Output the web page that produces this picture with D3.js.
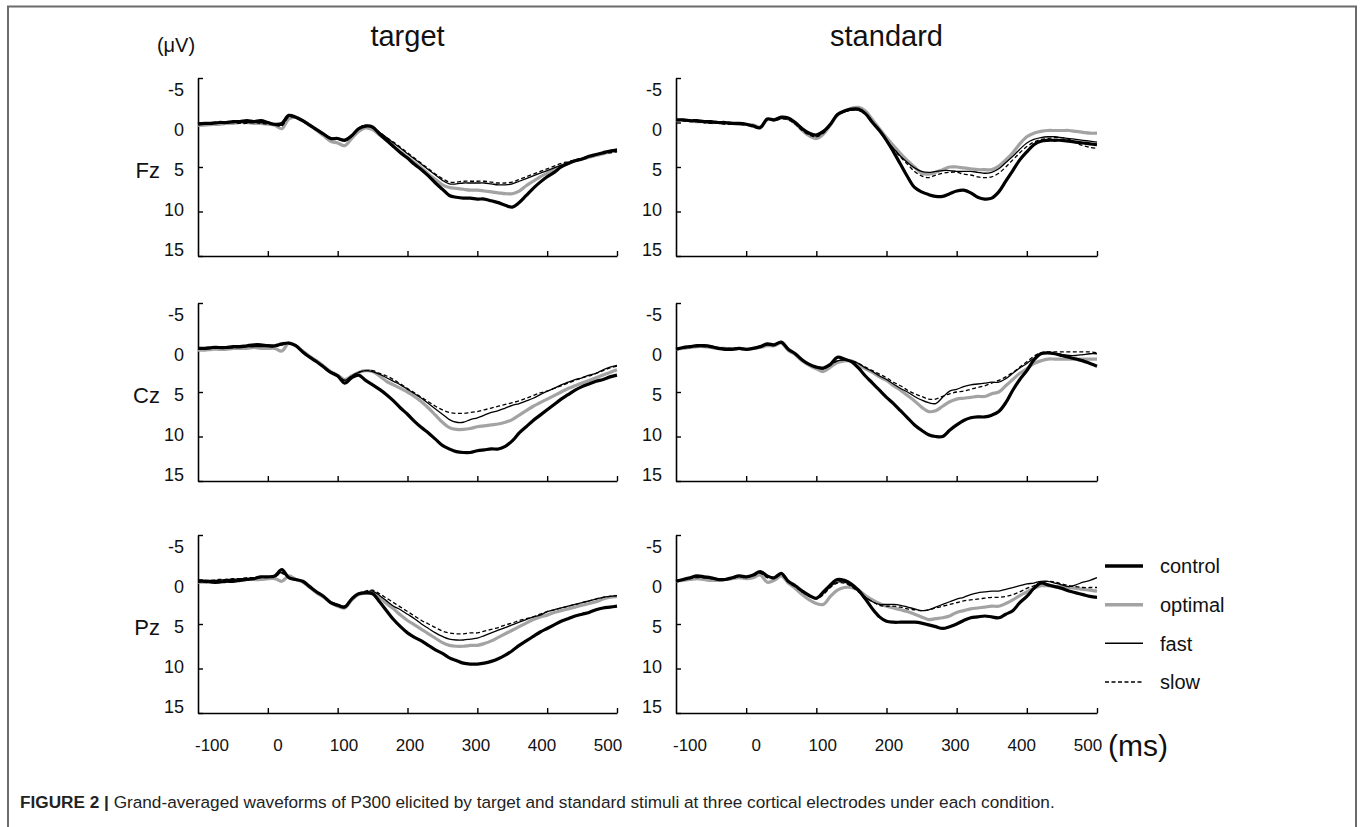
<!DOCTYPE html>
<html><head><meta charset="utf-8">
<script src="https://cdn.jsdelivr.net/npm/d3@7"></script>
<style>
body{margin:0;background:#fff}
svg{display:block}
text{font-family:"Liberation Sans",Arial,Helvetica,sans-serif;fill:#111}
</style>
</head><body>
<svg id="chart" width="1360" height="827"></svg>
<script>
// ---------- data ----------
const timesMs = [-100,-90,-80,-70,-60,-50,-40,-30,-20,-10,
  0,10,20,30,40,50,60,70,80,90,
  100,110,120,130,140,150,160,170,180,190,
  200,210,220,230,240,250,260,270,280,290,
  300,310,320,330,340,350,360,370,380,390,
  400,410,420,430,440,450,460,470,480,490,500];
const stimuli = ["target","standard"];
const electrodes = ["Fz","Cz","Pz"];
const conditions = ["control","optimal","fast","slow"];
const yTicks = [-5,0,5,10,15];
const xTicks = [-100,0,100,200,300,400,500];

// target, Fz
const targetFzControl = [0.2,0.1,0.1,0.0,0.0,-0.1,-0.1,-0.2,-0.1,-0.2, 0.0,0.2,0.1,-0.8,-0.6,-0.2,0.3,0.8,1.3,1.8, 1.8,2.0,1.5,0.7,0.4,0.5,1.3,2.0,2.7,3.4, 4.0,4.7,5.3,6.0,6.8,7.5,8.2,8.4,8.5,8.5, 8.6,8.6,8.8,9.0,9.3,9.5,9.0,8.2,7.4,6.7, 6.1,5.6,5.0,4.6,4.3,4.1,3.8,3.6,3.4,3.2, 3.1];
const targetFzOptimal = [0.3,0.3,0.2,0.2,0.1,0.1,0.0,0.0,0.1,0.1, 0.2,0.3,0.7,-0.4,-0.6,-0.2,0.3,0.9,1.5,2.1, 2.3,2.6,1.8,1.0,0.6,0.8,1.4,2.0,2.7,3.3, 3.9,4.5,5.1,5.8,6.4,7.0,7.3,7.4,7.5,7.6, 7.6,7.7,7.8,7.9,8.0,8.0,7.7,7.1,6.6,6.1, 5.7,5.3,4.9,4.6,4.3,4.1,3.9,3.7,3.5,3.3, 3.2];
const targetFzFast = [0.1,0.1,0.0,0.0,-0.1,-0.1,-0.1,0.0,0.0,0.0, 0.1,0.2,0.3,-0.7,-0.6,-0.2,0.3,0.8,1.3,1.7, 1.8,1.9,1.4,0.6,0.3,0.5,1.1,1.7,2.3,2.9, 3.5,4.1,4.7,5.3,5.9,6.5,6.9,6.9,6.8,6.8, 6.8,6.8,6.9,7.0,7.0,6.9,6.6,6.3,6.0,5.7, 5.4,5.1,4.8,4.5,4.3,4.1,3.8,3.6,3.4,3.2, 3.0];
const targetFzSlow = [0.2,0.2,0.1,0.1,0.0,0.0,0.1,0.1,0.0,0.1, 0.2,0.3,0.4,-0.6,-0.5,-0.1,0.4,0.9,1.4,1.8, 1.9,2.0,1.5,0.7,0.4,0.6,1.1,1.7,2.2,2.8, 3.4,4.0,4.6,5.2,5.8,6.3,6.7,6.7,6.6,6.6, 6.6,6.6,6.7,6.8,6.8,6.7,6.4,6.1,5.8,5.5, 5.2,4.9,4.6,4.4,4.2,4.0,3.8,3.6,3.5,3.4, 3.3];
// standard, Fz
const standardFzControl = [-0.3,-0.3,-0.2,-0.2,-0.1,-0.1,0.0,0.0,0.1,0.1, 0.2,0.4,0.6,-0.4,-0.3,-0.6,-0.5,0.0,0.7,1.2, 1.4,1.0,0.2,-0.9,-1.3,-1.5,-1.5,-1.0,0.0,0.9, 2.0,3.3,4.7,6.1,7.3,7.8,8.1,8.3,8.3,8.0, 7.7,7.6,7.9,8.4,8.6,8.5,7.8,6.6,5.4,4.2, 3.3,2.5,2.1,2.0,2.0,2.0,2.1,2.2,2.3,2.4, 2.5];
const standardFzOptimal = [-0.2,-0.3,-0.2,-0.1,-0.1,0.0,0.0,0.1,0.1,0.2, 0.2,0.3,0.5,-0.3,-0.3,-0.5,-0.4,0.1,0.9,1.5, 1.8,1.3,0.3,-0.8,-1.3,-1.6,-1.7,-1.3,-0.3,0.7, 1.7,2.6,3.5,4.3,5.0,5.7,5.8,5.6,5.3,5.0, 5.0,5.1,5.2,5.3,5.3,5.3,4.9,4.2,3.4,2.4, 1.6,1.2,1.0,0.9,0.9,0.9,0.9,1.0,1.1,1.2, 1.2];
const standardFzFast = [-0.3,-0.2,-0.2,-0.1,0.0,0.0,0.1,0.1,0.1,0.2, 0.2,0.3,0.5,-0.4,-0.3,-0.5,-0.4,0.1,0.8,1.3, 1.5,1.1,0.3,-0.8,-1.2,-1.4,-1.4,-1.0,0.0,1.0, 2.0,2.9,3.8,4.5,5.1,5.5,5.6,5.5,5.4,5.4, 5.5,5.5,5.5,5.6,5.7,5.6,5.2,4.5,3.8,3.0, 2.3,1.9,1.7,1.6,1.6,1.7,1.8,1.9,2.0,2.1, 2.2];
const standardFzSlow = [-0.2,-0.2,-0.1,-0.1,0.0,0.1,0.1,0.2,0.2,0.2, 0.3,0.4,0.5,-0.3,-0.2,-0.4,-0.3,0.2,0.9,1.4, 1.6,1.2,0.3,-0.8,-1.2,-1.4,-1.4,-1.0,0.0,1.0, 2.0,3.0,3.9,4.7,5.5,6.0,6.2,5.9,5.7,5.6, 5.6,5.8,5.9,6.1,6.2,6.1,5.7,5.0,4.2,3.4, 2.7,2.2,1.9,1.8,1.7,1.7,1.9,2.3,2.6,2.8, 2.9];
// target, Cz
const targetCzControl = [0.1,0.1,0.0,0.0,0.0,-0.1,-0.1,-0.2,-0.3,-0.3, -0.2,-0.2,-0.4,-0.5,-0.2,0.5,1.1,1.6,2.2,2.8, 3.2,4.0,3.4,3.1,3.7,4.2,4.7,5.3,6.0,6.8, 7.5,8.3,9.0,9.6,10.3,11.0,11.4,11.7,11.8,11.8, 11.6,11.5,11.4,11.4,11.1,10.5,9.6,8.9,8.2,7.6, 7.0,6.4,5.8,5.3,4.8,4.4,4.1,3.8,3.6,3.3, 3.1];
const targetCzOptimal = [0.3,0.3,0.2,0.2,0.2,0.1,0.1,0.1,0.0,0.1, 0.1,0.1,0.4,-0.5,-0.2,0.4,1.0,1.5,2.1,2.7, 3.1,3.6,3.2,2.8,2.6,2.7,3.2,3.8,4.2,4.6, 5.0,5.5,6.1,6.8,7.6,8.4,9.0,9.2,9.2,9.1, 8.9,8.8,8.7,8.6,8.4,8.1,7.6,7.1,6.6,6.2, 5.8,5.4,5.0,4.6,4.3,4.0,3.7,3.4,3.1,2.8, 2.5];
const targetCzFast = [0.2,0.2,0.1,0.1,0.1,0.0,0.0,-0.1,-0.1,-0.1, -0.1,-0.1,-0.3,-0.5,-0.2,0.5,1.0,1.6,2.2,2.7, 3.1,3.7,3.2,2.8,2.6,2.7,3.0,3.4,3.8,4.2, 4.7,5.2,5.7,6.3,6.9,7.5,8.1,8.4,8.4,8.1, 7.9,7.6,7.3,7.1,6.8,6.5,6.3,6.0,5.7,5.3, 4.9,4.6,4.2,3.9,3.6,3.4,3.1,2.9,2.5,2.2, 2.0];
const targetCzSlow = [0.1,0.1,0.1,0.0,0.0,0.0,-0.1,-0.1,-0.1,-0.2, -0.1,-0.1,-0.3,-0.5,-0.2,0.5,1.0,1.6,2.2,2.7, 3.1,3.7,3.2,2.8,2.6,2.6,2.9,3.2,3.6,4.1, 4.6,5.1,5.6,6.1,6.6,7.0,7.3,7.4,7.4,7.3, 7.2,7.0,6.8,6.6,6.4,6.2,6.0,5.7,5.4,5.1, 4.9,4.6,4.3,4.0,3.7,3.4,3.2,2.9,2.6,2.3, 2.1];
// standard, Cz
const standardCzControl = [0.2,0.0,-0.1,-0.2,-0.2,-0.1,0.1,0.2,0.2,0.1, 0.2,0.1,-0.1,-0.4,-0.3,-0.6,0.2,0.7,1.4,1.9, 2.2,2.3,1.9,1.1,1.3,1.6,2.3,3.2,4.0,4.8, 5.6,6.3,7.1,7.9,8.7,9.3,9.8,10.0,10.0,9.3, 8.7,8.2,7.9,7.8,7.8,7.6,7.2,6.2,4.8,3.6, 2.6,1.4,0.7,0.6,0.7,0.9,1.1,1.3,1.5,1.8, 2.1];
const standardCzOptimal = [0.2,0.1,0.0,-0.1,-0.1,0.0,0.1,0.1,0.2,0.1, 0.2,0.1,0.0,-0.2,-0.2,-0.5,0.3,0.8,1.5,2.0, 2.4,2.7,2.2,1.7,1.5,1.5,1.9,2.4,2.8,3.3, 3.7,4.3,4.8,5.4,6.0,6.7,7.2,7.1,6.6,6.1, 5.8,5.7,5.6,5.5,5.5,5.2,5.0,4.3,3.6,2.9, 2.4,1.8,1.5,1.3,1.3,1.3,1.3,1.3,1.3,1.3, 1.3];
const standardCzFast = [0.1,0.0,-0.1,-0.2,-0.2,-0.1,0.0,0.1,0.1,0.1, 0.2,0.1,-0.1,-0.3,-0.3,-0.6,0.2,0.7,1.4,1.9, 2.2,2.4,1.9,1.5,1.4,1.5,1.8,2.3,2.7,3.2, 3.6,4.1,4.6,5.0,5.5,5.9,6.2,6.3,5.6,4.9, 4.7,4.4,4.2,4.1,4.0,3.9,3.9,3.5,2.9,2.3, 1.8,1.2,0.7,0.6,0.7,0.8,0.9,0.9,0.8,0.7, 0.7];
const standardCzSlow = [0.2,0.1,0.0,-0.1,-0.1,0.0,0.1,0.1,0.1,0.1, 0.2,0.1,0.0,-0.3,-0.3,-0.5,0.2,0.7,1.4,1.9, 2.2,2.4,2.0,1.5,1.4,1.5,1.8,2.2,2.6,3.0, 3.4,3.9,4.3,4.8,5.2,5.5,5.8,5.8,5.5,5.2, 5.0,4.9,4.7,4.5,4.3,4.0,3.7,3.3,2.8,2.2, 1.6,1.0,0.6,0.5,0.5,0.5,0.5,0.5,0.5,0.5, 0.6];
// target, Pz
const targetPzControl = [0.2,0.2,0.3,0.3,0.2,0.2,0.1,0.0,-0.1,-0.3, -0.3,-0.4,-1.1,-0.2,0.0,0.2,0.8,1.4,1.9,2.6, 2.9,3.1,2.2,1.6,1.5,1.6,2.5,3.5,4.5,5.3, 6.0,6.5,6.9,7.4,7.9,8.3,8.8,9.1,9.4,9.5, 9.5,9.4,9.2,8.9,8.5,8.0,7.4,6.9,6.4,5.9, 5.5,5.1,4.7,4.4,4.1,3.9,3.7,3.4,3.2,3.1, 3.0];
const targetPzOptimal = [0.3,0.3,0.2,0.2,0.2,0.1,0.1,0.0,0.0,0.0, -0.1,-0.1,0.2,-0.4,0.0,0.3,0.9,1.5,2.0,2.6, 3.0,3.2,2.3,1.7,1.5,1.5,2.0,2.7,3.3,4.0, 4.6,5.1,5.6,6.1,6.6,7.1,7.4,7.5,7.5,7.4, 7.4,7.2,6.9,6.5,6.1,5.7,5.3,4.9,4.5,4.2, 4.0,3.7,3.5,3.3,3.1,2.9,2.7,2.5,2.2,2.0, 1.9];
const targetPzFast = [0.2,0.1,0.1,0.1,0.0,0.0,-0.1,-0.1,-0.2,-0.3, -0.3,-0.4,-0.8,-0.2,0.0,0.2,0.8,1.4,1.9,2.5, 2.8,3.0,2.2,1.6,1.4,1.3,1.8,2.4,3.0,3.4, 3.9,4.4,5.0,5.5,6.0,6.4,6.7,6.8,6.8,6.7, 6.6,6.3,6.0,5.7,5.4,5.1,4.8,4.5,4.2,4.0, 3.6,3.4,3.2,3.0,2.8,2.6,2.4,2.2,2.0,1.9, 1.8];
const targetPzSlow = [0.1,0.1,0.1,0.0,0.0,-0.1,-0.1,-0.2,-0.2,-0.3, -0.3,-0.3,-0.7,-0.2,0.0,0.2,0.8,1.4,1.9,2.5, 2.8,3.0,2.2,1.6,1.3,1.2,1.6,2.1,2.6,3.1, 3.6,4.1,4.6,5.0,5.4,5.8,6.0,6.1,6.1,6.0, 6.0,5.8,5.6,5.4,5.1,4.9,4.6,4.4,4.2,3.9, 3.6,3.4,3.2,3.0,2.8,2.6,2.4,2.2,2.0,1.9, 1.8];
// standard, Pz
const standardPzControl = [0.2,0.0,-0.2,-0.4,-0.3,-0.2,0.0,0.0,-0.2,-0.4, -0.3,-0.5,-0.9,-0.4,-0.2,-0.7,0.2,0.7,1.3,1.8, 2.1,1.4,0.6,0.0,0.1,0.5,1.2,2.2,3.3,4.2, 4.7,4.8,4.8,4.8,4.8,4.9,5.1,5.3,5.5,5.3, 5.0,4.6,4.3,4.2,4.1,4.2,4.3,3.9,3.5,2.6, 1.9,1.0,0.4,0.6,0.8,1.0,1.3,1.5,1.7,1.9, 2.0];
const standardPzOptimal = [0.2,0.1,0.0,-0.1,0.0,0.1,0.1,0.0,-0.1,-0.2, -0.1,-0.2,-0.5,0.3,0.1,-0.4,0.4,1.0,1.7,2.3, 2.7,2.8,1.9,1.2,0.9,0.9,1.2,1.8,2.3,2.7, 3.0,3.2,3.4,3.6,3.9,4.2,4.5,4.4,4.3,4.1, 3.7,3.5,3.3,3.2,3.1,3.0,3.0,2.7,2.3,1.8, 1.4,1.0,0.7,0.7,0.8,0.8,0.9,1.0,1.1,1.2, 1.3];
const standardPzFast = [0.2,0.0,-0.2,-0.3,-0.2,-0.1,0.0,0.0,-0.2,-0.4, -0.3,-0.5,-0.8,-0.3,-0.2,-0.6,0.2,0.7,1.3,1.8, 2.1,1.6,0.8,0.3,0.3,0.7,1.3,2.0,2.5,2.8, 2.8,2.8,2.9,3.1,3.3,3.5,3.4,3.1,2.8,2.5, 2.2,2.0,1.7,1.5,1.4,1.3,1.3,1.1,0.9,0.7, 0.5,0.4,0.2,0.2,0.4,0.6,0.8,0.6,0.3,0.1, -0.2];
const standardPzSlow = [0.1,0.0,-0.1,-0.2,-0.2,-0.1,0.0,0.0,-0.1,-0.3, -0.2,-0.4,-0.7,-0.2,-0.1,-0.5,0.3,0.8,1.4,1.9, 2.2,1.7,0.9,0.4,0.4,0.8,1.4,2.0,2.5,2.9, 3.0,3.0,3.1,3.3,3.4,3.5,3.4,3.2,3.0,2.8, 2.6,2.4,2.3,2.2,2.1,2.0,2.0,1.9,1.7,1.4, 1.0,0.7,0.3,0.2,0.3,0.5,0.7,0.8,0.9,0.9, 0.9];

const captionBold = "FIGURE 2 |";
const captionText = " Grand-averaged waveforms of P300 elicited by target and standard stimuli at three cortical electrodes under each condition.";

// table built from the arrays
const waves = {
  target: {
    Fz: {control: targetFzControl, optimal: targetFzOptimal, fast: targetFzFast, slow: targetFzSlow},
    Cz: {control: targetCzControl, optimal: targetCzOptimal, fast: targetCzFast, slow: targetCzSlow},
    Pz: {control: targetPzControl, optimal: targetPzOptimal, fast: targetPzFast, slow: targetPzSlow}
  },
  standard: {
    Fz: {control: standardFzControl, optimal: standardFzOptimal, fast: standardFzFast, slow: standardFzSlow},
    Cz: {control: standardCzControl, optimal: standardCzOptimal, fast: standardCzFast, slow: standardCzSlow},
    Pz: {control: standardPzControl, optimal: standardPzOptimal, fast: standardPzFast, slow: standardPzSlow}
  }
};

// ---------- layout / style ----------
const styles = {
  control: {stroke: "#000", width: 3.2, dash: null},
  optimal: {stroke: "#a3a3a3", width: 3.2, dash: null},
  fast:    {stroke: "#000", width: 1.3, dash: null},
  slow:    {stroke: "#000", width: 1.3, dash: "4,2.5"}
};
const colX = {target: [198, 617], standard: [676, 1097]};
const rowY = {Fz: [78, 256], Cz: [303, 481], Pz: [535, 713]};

const svg = d3.select("#chart");

// frame
svg.append("path").attr("d","M8,827 V6.5 H1356 V827")
  .attr("fill","none").attr("stroke","#6b6b6b").attr("stroke-width",2);

stimuli.forEach(stim => {
  const [x0, x1] = colX[stim];
  const x = d3.scaleLinear().domain([-100, 500]).range([x0, x1]);
  const xLab = d3.scaleLinear().domain([-100, 500]).range([x0 + 14, x1 - 9]);

  svg.append("text").attr("x", (x0 + x1) / 2).attr("y", 46)
    .attr("text-anchor","middle").style("font-size","29px").text(stim);

  electrodes.forEach(el => {
    const [y0, y1] = rowY[el];
    const y = d3.scaleLinear().domain([-5, 15]).range([y0, y1]);
    const yLab = d3.scaleLinear().domain([-5, 15]).range([y0 + 12, y1 - 6]);
    const g = svg.append("g");

    const ya = g.append("g").attr("transform", `translate(${x0},0)`)
      .call(d3.axisLeft(y).tickValues(yTicks).tickSize(-5).tickSizeOuter(0).tickFormat(""));
    ya.select(".domain").attr("stroke","#000").attr("stroke-width",1.6);
    ya.selectAll(".tick line").attr("stroke","#000").attr("stroke-width",1.4);
    g.selectAll(".ylab").data(yTicks).enter().append("text")
      .attr("x", x0 - 14).attr("y", d => yLab(d)).attr("dy","0.36em")
      .attr("text-anchor","end").style("font-size","18px").text(d => d);

    const xa = g.append("g").attr("transform", `translate(0,${y1})`)
      .call(d3.axisBottom(x).tickValues(xTicks.slice(1)).tickSize(-5).tickSizeOuter(0).tickFormat(""));
    xa.select(".domain").attr("stroke","#000").attr("stroke-width",1.6);
    xa.selectAll(".tick line").attr("stroke","#000").attr("stroke-width",1.4);

    if (el === "Pz") {
      svg.selectAll(null).data(xTicks).enter().append("text")
        .attr("x", d => xLab(d)).attr("y", 751)
        .attr("text-anchor","middle").style("font-size","17px").text(d => d);
    }
    if (stim === "target") {
      svg.append("text").attr("x", 160).attr("y", yLab(5)).attr("dy","0.36em")
        .attr("text-anchor","end").style("font-size","22px").text(el);
    }

    const line = d3.line().x((d, i) => x(timesMs[i])).y(d => y(d)).curve(d3.curveCatmullRom.alpha(0.5));
    ["optimal","slow","fast","control"].forEach(c => {
      const s = styles[c];
      g.append("path").datum(waves[stim][el][c]).attr("d", line)
        .attr("fill","none").attr("stroke", s.stroke).attr("stroke-width", s.width)
        .attr("stroke-linejoin","round").attr("stroke-dasharray", s.dash);
    });
  });
});

svg.append("text").attr("x", 176).attr("y", 52).attr("text-anchor","middle")
  .style("font-size","20px").text("(\u03bcV)");
svg.append("text").attr("x", 1108).attr("y", 756).style("font-size","30px").text("(ms)");

// legend
const legY = d3.scalePoint().domain(conditions).range([566, 682]);
const lg = svg.append("g");
conditions.forEach(c => {
  const s = styles[c];
  lg.append("line").attr("x1",1105).attr("x2",1143).attr("y1",legY(c)).attr("y2",legY(c))
    .attr("stroke", s.stroke).attr("stroke-width", c === "control" || c === "optimal" ? 3.5 : 1.5)
    .attr("stroke-dasharray", s.dash ? "4,2.5" : null);
  lg.append("text").attr("x",1160).attr("y",legY(c)).attr("dy","0.36em")
    .style("font-size","20px").text(c);
});

// caption
const cap = svg.append("text").attr("x", 20).attr("y", 808).style("font-size","17.2px").style("fill","#222");
cap.append("tspan").style("font-weight","bold").text(captionBold);
cap.append("tspan").text(captionText);
</script>
</body></html>
